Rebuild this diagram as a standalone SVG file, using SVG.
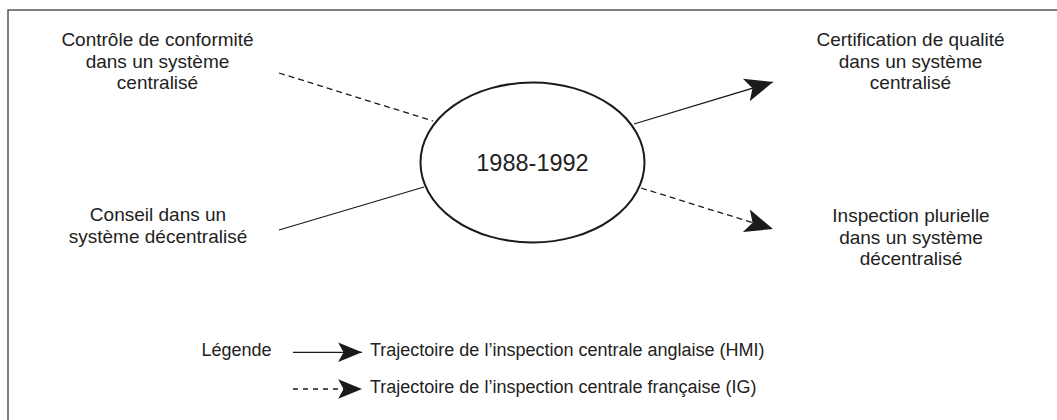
<svg xmlns="http://www.w3.org/2000/svg" width="1057" height="420" viewBox="0 0 1057 420">
<style>
text{font-family:"Liberation Sans",Arial,sans-serif;font-size:18px;fill:#222;text-anchor:middle}
.nd text{font-size:19px}
.leg{text-anchor:start}
.ln{stroke:#1a1a1a;stroke-width:1.3;fill:none}
.dash{stroke-dasharray:6 4}
.ldash{stroke-dasharray:5 5}
</style>
<defs>
<marker id="ah" markerUnits="userSpaceOnUse" markerWidth="30" markerHeight="26" viewBox="-27 -12 28 24" refX="0" refY="0" orient="auto">
<path d="M0,0 L-26,-11 L-20,0 L-26,11 Z" fill="#1a1a1a"/>
</marker>
<marker id="ahs" markerUnits="userSpaceOnUse" markerWidth="26" markerHeight="22" viewBox="-23 -10 24 20" refX="0" refY="0" orient="auto">
<path d="M0,0 L-22,-9 L-17,0 L-22,9 Z" fill="#1a1a1a"/>
</marker>
</defs>
<path d="M8,420 V10 H1057" fill="none" stroke="#555" stroke-width="1.5"/>
<g id="connectors">
<line class="ln dash" x1="279" y1="73" x2="433" y2="121"/>
<line class="ln" x1="279" y1="230" x2="424" y2="187"/>
<line class="ln" x1="634" y1="124" x2="773" y2="82" marker-end="url(#ah)"/>
<line class="ln dash" x1="641" y1="188" x2="773" y2="229" marker-end="url(#ah)"/>
</g>
<g id="center">
<ellipse cx="532.5" cy="162.5" rx="112" ry="80" fill="#fff" stroke="#1a1a1a" stroke-width="2"/>
<text x="532.5" y="170.5" style="font-size:23.5px">1988-1992</text>
</g>
<g id="n-controle" class="nd">
<text x="157.5" y="46">Contrôle de conformité</text>
<text x="157.5" y="67.5">dans un système</text>
<text x="157.5" y="89">centralisé</text>
</g>
<g id="n-conseil" class="nd">
<text x="158" y="221">Conseil dans un</text>
<text x="158" y="242.5">système décentralisé</text>
</g>
<g id="n-certification" class="nd">
<text x="910.5" y="46">Certification de qualité</text>
<text x="910.5" y="67.5">dans un système</text>
<text x="910.5" y="89">centralisé</text>
</g>
<g id="n-inspection" class="nd">
<text x="911" y="222">Inspection plurielle</text>
<text x="911" y="243.5">dans un système</text>
<text x="911" y="265">décentralisé</text>
</g>
<g id="legend">
<text class="leg" x="201.5" y="355.5">Légende</text>
<line class="ln" x1="293" y1="352.3" x2="362" y2="352.3" marker-end="url(#ahs)"/>
<text class="leg" x="370" y="355.5">Trajectoire de l’inspection centrale anglaise (HMI)</text>
<line class="ln ldash" x1="293" y1="389" x2="362" y2="389" marker-end="url(#ahs)"/>
<text class="leg" x="370" y="392.5">Trajectoire de l’inspection centrale française (IG)</text>
</g>
</svg>
